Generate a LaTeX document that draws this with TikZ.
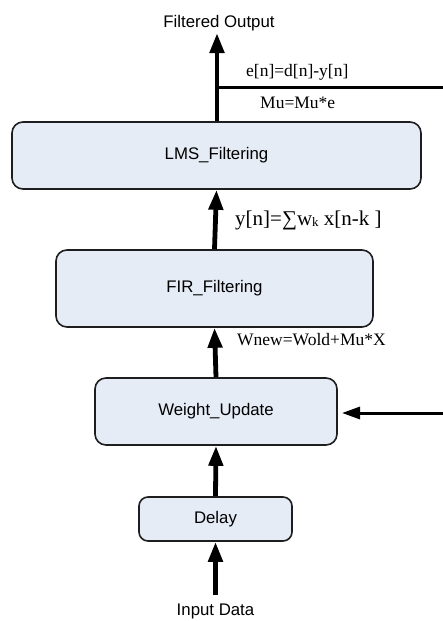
\documentclass[tikz,border=0pt]{standalone}
\usepackage{fontspec}
\setmainfont{Liberation Serif}
\newfontfamily\boxfont{Liberation Sans}
\usetikzlibrary{arrows.meta}
\definecolor{boxfill}{RGB}{230,236,246}
\definecolor{boxline}{RGB}{30,30,30}
\tikzset{
  blockbox/.style={draw=boxline, line width=1.6pt, fill=boxfill, rounded corners=11pt,
    font=\boxfont\fontsize{16.8}{20}\selectfont, inner sep=0pt},
  sanslabel/.style={font=\boxfont\fontsize{16.8}{20}\selectfont, inner sep=0pt},
  eqlabel/.style={font=\fontsize{17.5}{21}\selectfont, inner sep=0pt, anchor=west},
  bigarrow/.style={line width=4.8pt, -{Triangle[width=14pt,length=20pt]}},
  sigline/.style={line width=3pt},
  sigarrow/.style={line width=3pt, -{Triangle[width=12pt,length=18pt]}}
}
\begin{document}
\begin{tikzpicture}[x=1pt,y=-1pt]
  \useasboundingbox (0,0) rectangle (443,621);

  % processing blocks
  \node[blockbox, minimum width=409pt, minimum height=67pt] (lms) at (216.5,155.5) {LMS\_Filtering};
  \node[blockbox, minimum width=317pt, minimum height=77pt] (fir) at (214.5,288.5) {FIR\_Filtering};
  \node[blockbox, minimum width=242pt, minimum height=67pt] (wu) at (216,411.5) {Weight\_Update};
  \node[blockbox, minimum width=153pt, minimum height=44pt, rounded corners=9pt] (delay) at (215.5,519) {Delay};

  % input and output labels
  \node[sanslabel] (inlbl) at (215.5,611) {Input Data};
  \node[sanslabel] (outlbl) at (219,23) {Filtered Output};

  % free ends of the connectors
  \coordinate (instart) at (215.5,595);
  \coordinate (outtip) at (217,33);
  \coordinate (ejoin) at (217,87);
  \coordinate (eend) at (443,87);
  \coordinate (fbstart) at (443,413);
  \coordinate (fbtip) at (342,413);

  % main signal path
  \draw[bigarrow] (instart) -- (delay.south);
  \draw[bigarrow] (delay.north) -- (wu.south);
  \draw[bigarrow] (wu.north) -- (fir.south);
  \draw[bigarrow] (fir.north) -- (lms.south);
  \draw[bigarrow] (lms.north -| outtip) -- (outtip);

  % error signal and feedback into the weight update
  \draw[sigline] (ejoin) -- (eend);
  \draw[sigarrow] (fbstart) -- (fbtip);

  % equations
  \node[eqlabel] (elbl) at (246,72) {e[n]=d[n]-y[n]};
  \node[eqlabel] (mulbl) at (260,103) {Mu=Mu*e};
  \node[eqlabel, font=\fontsize{21}{24}\selectfont] (ylbl) at (235,220)
    {y[n]=∑w{\fontsize{13}{13}\selectfont\raisebox{-1.5pt}{k}} x[n-k ]};
  \node[eqlabel] (wlbl) at (237,340) {Wnew=Wold+Mu*X};
\end{tikzpicture}
\end{document}
